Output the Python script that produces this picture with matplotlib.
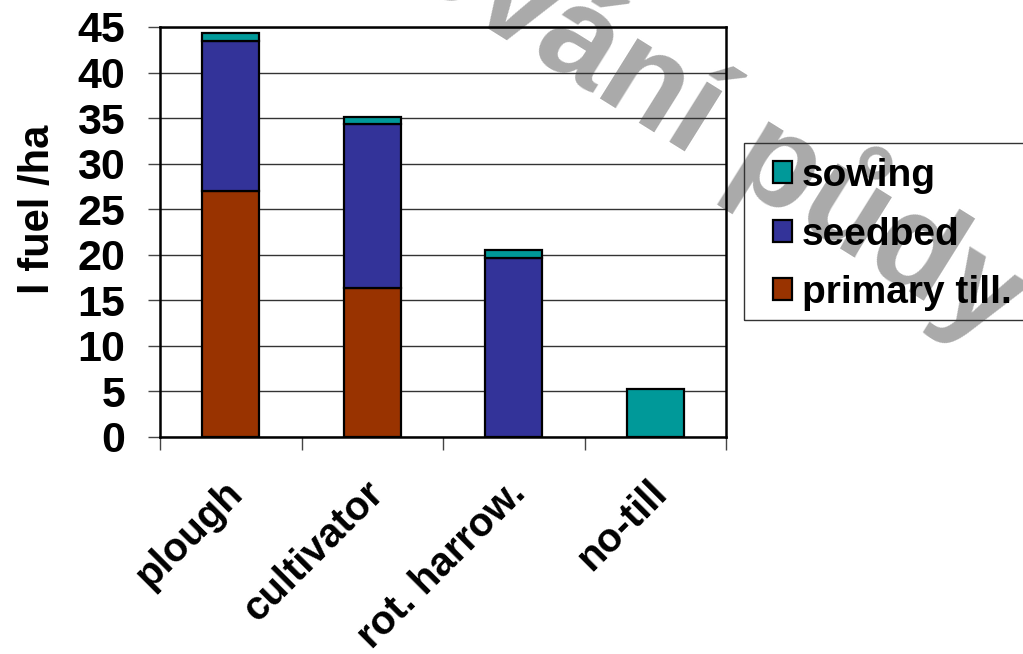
import matplotlib
matplotlib.use("Agg")
import matplotlib.pyplot as plt
from matplotlib.patches import Patch, Rectangle
from matplotlib.transforms import ScaledTranslation

plt.rcParams['font.family'] = ['Liberation Sans', 'DejaVu Sans']
plt.rcParams['font.weight'] = 'bold'

# Fuel consumption per tillage system (l/ha), split by operation
categories = ["plough", "cultivator", "rot. harrow.", "no-till"]
primary_till = [27.0, 16.4, 0.0, 0.0]
seedbed = [16.5, 17.9, 19.6, 0.0]
sowing = [0.8, 0.8, 0.9, 5.3]
y_ticks = [0, 5, 10, 15, 20, 25, 30, 35, 40, 45]

c_primary = "#993300"
c_seedbed = "#333399"
c_sowing = "#009999"

W, H, DPI = 1023, 654, 100
fig = plt.figure(figsize=(W / DPI, H / DPI), dpi=DPI, facecolor="white")
ax = fig.add_axes([160 / W, 1 - 437 / H, (726 - 160) / W, (437 - 27) / H])
ax.set_facecolor("none")
ax.set_zorder(1)

# Background watermark
fig.text(994 / W, 1 - 345 / H, "Zpracování půdy", fontsize=96, fontweight="bold",
         color="#aaaaaa", rotation=-32, rotation_mode="anchor",
         ha="right", va="baseline", zorder=-1)

x = list(range(len(categories)))
bw = 0.4
edge = dict(edgecolor="black", linewidth=1.6, zorder=3)
base2 = [p for p in primary_till]
base3 = [p + s for p, s in zip(primary_till, seedbed)]
ax.bar(x, primary_till, bw, color=c_primary, **edge)
ax.bar(x, seedbed, bw, bottom=base2, color=c_seedbed, **edge)
ax.bar(x, sowing, bw, bottom=base3, color=c_sowing, **edge)

ax.set_xlim(-0.5, len(categories) - 0.5)
ax.set_ylim(0, 45)
ax.set_yticks(y_ticks)
ax.yaxis.grid(True, color="#333333", linewidth=1.0, zorder=0)
ax.set_axisbelow(True)

for s in ax.spines.values():
    s.set_linewidth(1.8)
    s.set_color("black")

ax.tick_params(axis="y", direction="out", length=9, width=1, color="#444444",
               labelsize=31, pad=16)
ax.set_xticks(x)
ax.set_xticklabels(categories, rotation=45, rotation_mode="anchor",
                   ha="right", va="center", fontsize=29)
ax.tick_params(axis="x", which="major", length=0, pad=36)
shift = ScaledTranslation(4 / 72, 0, fig.dpi_scale_trans)
for lbl in ax.get_xticklabels():
    lbl.set_transform(lbl.get_transform() + shift)
ax.set_xticks([i - 0.5 for i in range(len(categories) + 1)], minor=True)
ax.tick_params(axis="x", which="minor", direction="out", length=9.5, width=1,
               color="#444444")

fig.text(38 / W, 1 - 209 / H, "l fuel /ha", rotation=90, fontsize=30,
         fontweight="bold", ha="center", va="center")

# Legend: entries without frame, border drawn as a separate rectangle
handles = [Patch(facecolor=c_sowing, edgecolor="black", linewidth=1.6),
           Patch(facecolor=c_seedbed, edgecolor="black", linewidth=1.6),
           Patch(facecolor=c_primary, edgecolor="black", linewidth=1.6)]
labels = ["sowing", "seedbed", "primary till."]
leg = fig.legend(handles, labels, loc="upper left",
                 bbox_to_anchor=(773 / W, 1 - 158 / H), borderaxespad=0,
                 prop={"size": 28, "weight": "bold"}, frameon=False,
                 handlelength=0.5, handleheight=0.5,
                 handletextpad=0.25, labelspacing=0.58, borderpad=0)
leg.set_zorder(5)
fig.patches.append(Rectangle((744 / W, 1 - 320 / H), (1040 - 744) / W, (320 - 143) / H,
                             transform=fig.transFigure, facecolor="none",
                             edgecolor="#333333", linewidth=1.0, zorder=4))

fig.savefig("out.png", dpi=DPI)
